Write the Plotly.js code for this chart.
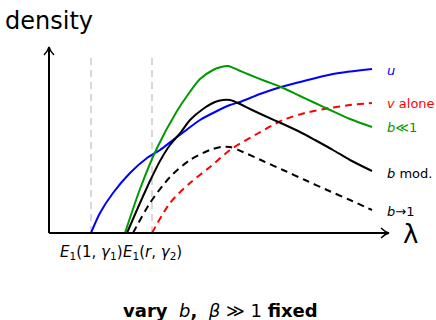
<!DOCTYPE html>
<html><head><meta charset="utf-8">
<script src="https://cdn.plot.ly/plotly-3.0.1.min.js"></script>
<style>html,body{margin:0;padding:0;background:#fff}#c{width:436px;height:320px}</style>
</head><body><div id="c"></div>
<script>
// λ and density values (arbitrary units)
const uX = [42,51,64,81,98,111,124,136,151,166,181,191,211,232,251,284,323];
const uY = [0,20,40,60,75,83,93,102,113,121,128,131,139,146,151,159,164];

const vX = [103,121,141,161,181,206,234,256,281,301,323];
const vY = [0,30,50,66,83,98,113,120,125,128,130];

const gX = [76,91,108,128,138,151,164,172,179,189,201,216,232,251,266,281,301,323];
const gY = [0,44,85,122,137,154,163,166,167,163,158,152,146,137,130,123,114,106];

const mX = [78,91,101,111,121,132,141,154,166,174,181,191,201,216,234,251,266,284,301,323];
const mY = [0,30,52,72,88,101,113,124,131,133,133,129,124,117,109,101,93,83,73,62];

const dX = [84,101,121,141,161,172,181,194,214,234,256,278,301,323];
const dY = [0,30,56,73,83,86,86,81,72,63,53,43,33,23];

const markX = [42,103];
const markLabels = ['<i>E</i><sub>1</sub>(1, <i>γ</i><sub>1</sub>)','<i>E</i><sub>1</sub>(<i>r</i>, <i>γ</i><sub>2</sub>)'];
const seriesLabels = ['<i>u</i>','<i>v</i> alone','<i>b</i>≪1','<i>b</i> mod.','<i>b</i>→1'];
const seriesColors = ['#0000ff','#ff0000','#009a00','#000000','#000000'];
const seriesDash = ['solid','7px,5px','solid','solid','7px,5px'];
const labelY = [163,130,105,60,22];

const XR=[0,340], YR=[0,186];
const xs=[uX,vX,gX,mX,dX], ys=[uY,vY,gY,mY,dY];
const traces = xs.map((x,i)=>({x:x,y:ys[i],mode:'lines',type:'scatter',hoverinfo:'skip',
  line:{color:seriesColors[i],width:2,dash:seriesDash[i],shape:'spline',smoothing:0.8},cliponaxis:false}));

// helpers: plot-area pixel offsets -> paper coords
const px=v=>v/(XR[1]-XR[0]), py=v=>v/(YR[1]-YR[0]);
const FONT='DejaVu Sans';
const shapes=[];
markX.forEach(x=>shapes.push({type:'line',xref:'x',yref:'y',x0:x,x1:x,y0:0,y1:177,
  line:{color:'#b0b0b0',width:1,dash:'7px,5px'},layer:'below'}));
shapes.push({type:'line',xref:'paper',yref:'paper',x0:0,x1:px(339),y0:0,y1:0,line:{color:'#000',width:2}});
shapes.push({type:'line',xref:'paper',yref:'paper',x0:0,x1:0,y0:0,y1:py(185),line:{color:'#000',width:2}});
const P=(a,b)=>px(a)+','+py(b);
shapes.push({type:'path',xref:'paper',yref:'paper',
  path:'M '+P(332,5)+' Q '+P(336,1)+' '+P(340,0)+' Q '+P(336,-1)+' '+P(332,-5),line:{color:'#000',width:1.5}});
shapes.push({type:'path',xref:'paper',yref:'paper',
  path:'M '+P(-5,178)+' Q '+P(-1,182)+' '+P(0,186)+' Q '+P(1,182)+' '+P(5,178),line:{color:'#000',width:1.5}});

const ann=[];
markX.forEach((x,i)=>ann.push({x:px(x),y:py(-20),xref:'paper',yref:'paper',text:markLabels[i],showarrow:false,
  xanchor:'center',yanchor:'middle',font:{family:FONT,size:15,color:'#000'}}));
seriesLabels.forEach((t,i)=>ann.push({x:px(336),y:py(labelY[i]),xref:'paper',yref:'paper',text:t,showarrow:false,
  xanchor:'left',yanchor:'middle',font:{family:FONT,size:13,color:seriesColors[i]}}));
ann.push({x:px(361),y:py(-1),xref:'paper',yref:'paper',text:'λ',showarrow:false,xanchor:'center',yanchor:'middle',
  font:{family:FONT,size:26,color:'#000'}});
ann.push({x:px(-46),y:py(212),xref:'paper',yref:'paper',text:'density',showarrow:false,xanchor:'left',yanchor:'middle',
  font:{family:FONT,size:24,color:'#000'}});
ann.push({x:px(171),y:py(-77),xref:'paper',yref:'paper',text:'<b>vary</b>  <i>b</i><b>,</b>  <i>β</i> ≫ 1 <b>fixed</b>',showarrow:false,
  xanchor:'center',yanchor:'middle',font:{family:FONT,size:18,color:'#000'}});

const layout={width:436,height:320,margin:{l:49,r:47,t:47,b:87,pad:0},
  paper_bgcolor:'#fff',plot_bgcolor:'#fff',showlegend:false,
  xaxis:{range:XR,visible:false,fixedrange:true},
  yaxis:{range:YR,visible:false,fixedrange:true},
  shapes:shapes,annotations:ann};
Plotly.newPlot('c',traces,layout,{staticPlot:true,displayModeBar:false});
</script></body></html>
